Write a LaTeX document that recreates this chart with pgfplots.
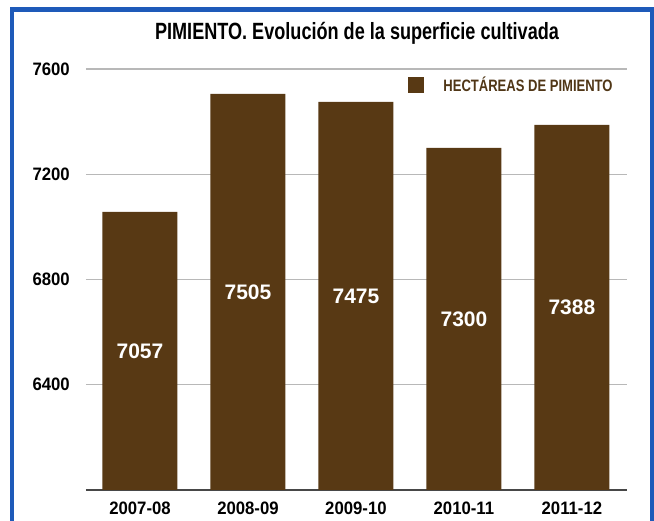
\documentclass[border=0pt]{standalone}
\usepackage{pgfplots}
\pgfplotsset{compat=1.18}
\usepackage{fontspec}
\setmainfont{Liberation Sans}
\newfontfamily\titlefont[FakeStretch=0.77]{Liberation Sans}
\newfontfamily\legfont[FakeStretch=0.79]{Liberation Sans}
\newfontfamily\tickfont[FakeStretch=0.93]{Liberation Sans}
\definecolor{barbrown}{RGB}{88,57,20}
\definecolor{legbrown}{RGB}{80,54,22}
\definecolor{framecol}{RGB}{30,90,185}
\begin{document}
\begin{tikzpicture}[x=1pt,y=1pt]
\useasboundingbox (0,0) rectangle (654,521);
\draw[framecol, line width=4.5pt] (12,-10) -- (12,511.5) -- (652,511.5) -- (652,-10);
\node[font={\titlefont\fontsize{23.5}{28}\selectfont\bfseries}, anchor=base, inner sep=0pt] at (357,481) {PIMIENTO. Evolución de la superficie cultivada};
\begin{axis}[
  at={(86pt,31pt)}, anchor=south west,
  scale only axis, width=541pt, height=421pt,
  xmin=-0.5, xmax=4.51, ymin=6000, ymax=7600,
  axis x line*=bottom, axis y line*=left,
  y axis line style={draw=none},
  x axis line style={draw=black!72, line width=1.2pt},
  xtick={0,1,2,3,4},
  xticklabels={2007-08,2008-09,2009-10,2010-11,2011-12},
  ytick={6400,6800,7200,7600},
  major tick length=0pt,
  ymajorgrids, grid style={draw=black!28, line width=1.2pt},
  /pgf/number format/assume math mode=true,
  /pgf/number format/1000 sep={},
  yticklabel style={font={\tickfont\fontsize{18}{20}\selectfont\bfseries}, anchor=east, inner sep=0pt, xshift=-16pt},
  xticklabel style={font={\tickfont\fontsize{18}{20}\selectfont\bfseries}, anchor=north, inner sep=0pt, yshift=-12pt},
  legend style={at={(rel axis cs:0.5952,0.9632)}, anchor=west, draw=none, fill=none,
    inner sep=0pt, outer sep=0pt, column sep=20pt,
    nodes={inner sep=0pt, text=legbrown},
    font={\legfont\fontsize{16.5}{19}\selectfont\bfseries}},
]
\addplot[ybar, bar width=75pt, fill=barbrown, draw=none, forget plot]
  coordinates {(0,7057) (1,7505) (2,7475) (3,7300) (4,7388)};
\addplot[draw=none, mark=none, forget plot, nodes near coords, point meta=explicit symbolic,
  every node near coord/.append style={anchor=center, text=white, font={\fontsize{21}{24}\selectfont\bfseries}}]
  coordinates {(0,6528.5)[7057] (1,6752.5)[7505] (2,6737.5)[7475] (3,6650)[7300] (4,6694)[7388]};
\addlegendimage{legend image code/.code={\fill[barbrown] (0pt,-7.5pt) rectangle (15pt,7.5pt);}}
\addlegendentry{HECTÁREAS DE PIMIENTO}
\end{axis}
\end{tikzpicture}
\end{document}
